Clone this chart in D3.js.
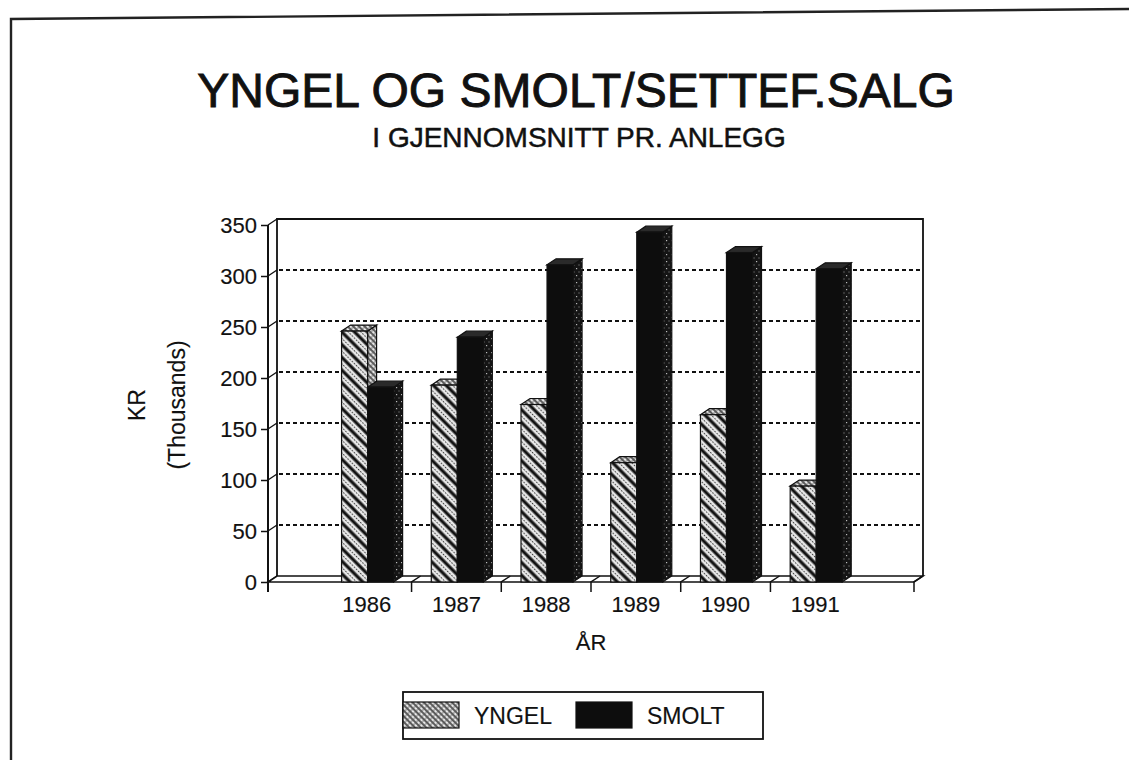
<!DOCTYPE html>
<html>
<head>
<meta charset="utf-8">
<script src="https://cdn.jsdelivr.net/npm/d3@7"></script>
<style>
  body { margin: 0; background: #fff; }
  svg { display: block; }
  text { font-family: "Liberation Sans", Arial, sans-serif; fill: #111; stroke: #111; stroke-width: 0.15; }
</style>
</head>
<body>
<svg id="chart" width="1129" height="760"></svg>
<script>
// data (KR, thousands)
var years = ["1986", "1987", "1988", "1989", "1990", "1991"];
var yngel = [246, 193, 174, 117, 164, 94];
var smolt = [191, 240, 311, 343, 323, 307];
var yTicks = [0, 50, 100, 150, 200, 250, 300, 350];
var seriesNames = ["YNGEL", "SMOLT"];

var svg = d3.select("#chart");
var defs = svg.append("defs");

// depth of the 3d effect
var dx = 9, dy = -6;

var x = d3.scaleBand().domain(years).range([268, 914]).paddingInner(0).paddingOuter(0.6);
var y = d3.scaleLinear().domain([0, 350]).range([582, 225]);
var inner = d3.scaleBand().domain(seriesNames).range([x.bandwidth() * 0.22, x.bandwidth() * 0.80]);

// hatch patterns, scanned look
var p1 = defs.append("pattern").attr("id", "hatch").attr("patternUnits", "userSpaceOnUse")
  .attr("width", 9).attr("height", 9).attr("patternTransform", "rotate(45)");
p1.append("rect").attr("width", 9).attr("height", 9).attr("fill", "#e6e6e6");
p1.append("line").attr("x1", 0).attr("x2", 9).attr("y1", 2).attr("y2", 2).attr("stroke", "#111").attr("stroke-width", 3.2);
p1.append("line").attr("x1", 0).attr("x2", 9).attr("y1", 6.5).attr("y2", 6.5).attr("stroke", "#333").attr("stroke-width", 1.2).attr("stroke-dasharray", "1.5,1.5");

var p2 = defs.append("pattern").attr("id", "hatch2").attr("patternUnits", "userSpaceOnUse")
  .attr("width", 4).attr("height", 4).attr("patternTransform", "rotate(45)");
p2.append("rect").attr("width", 4).attr("height", 4).attr("fill", "#e8e8e8");
p2.append("line").attr("x1", 0).attr("x2", 4).attr("y1", 1).attr("y2", 1).attr("stroke", "#222").attr("stroke-width", 1.4);
p2.append("line").attr("x1", 1).attr("x2", 1).attr("y1", 0).attr("y2", 4).attr("stroke", "#555").attr("stroke-width", 0.8);

var p3 = defs.append("pattern").attr("id", "speck").attr("patternUnits", "userSpaceOnUse")
  .attr("width", 5).attr("height", 7);
p3.append("rect").attr("width", 5).attr("height", 7).attr("fill", "#151515");
p3.append("rect").attr("x", 1).attr("y", 2).attr("width", 1.2).attr("height", 1.2).attr("fill", "#bbb");
p3.append("rect").attr("x", 3.5).attr("y", 5.5).attr("width", 1).attr("height", 1).attr("fill", "#999");

// outer frame (left and top edges only, as in the scan)
svg.append("path").attr("d", "M11,760 L11,19 L1129,9")
  .attr("fill", "none").attr("stroke", "#222").attr("stroke-width", 2.4);

// titles
svg.append("text").attr("x", 576).attr("y", 107).attr("text-anchor", "middle")
  .attr("font-size", 48).style("stroke-width", 0.9).text("YNGEL OG SMOLT/SETTEF.SALG");
svg.append("text").attr("x", 579).attr("y", 147).attr("text-anchor", "middle")
  .attr("font-size", 28).style("stroke-width", 0.5).text("I GJENNOMSNITT PR. ANLEGG");

var x0 = x.range()[0], x1 = x.range()[1];
var line = function(pts) { return d3.line()(pts); };

// back wall
var g = svg.append("g");
g.append("path")
  .attr("d", line([[x0 + dx, y(0) + dy], [x0 + dx, y(350) + dy], [x1 + dx, y(350) + dy], [x1 + dx, y(0) + dy]]))
  .attr("fill", "none").attr("stroke", "#111").attr("stroke-width", 1.8);

// dotted gridlines on the wall + connectors from the front axis
yTicks.slice(1, -1).forEach(function(t) {
  g.append("line").attr("x1", x0 + dx + 2).attr("x2", x1 + dx - 2)
    .attr("y1", y(t) + dy).attr("y2", y(t) + dy)
    .attr("stroke", "#111").attr("stroke-width", 1.8).attr("stroke-dasharray", "4,3");
});
yTicks.forEach(function(t) {
  g.append("line").attr("x1", x0).attr("y1", y(t)).attr("x2", x0 + dx).attr("y2", y(t) + dy)
    .attr("stroke", "#111").attr("stroke-width", 1.4);
});

// floor
g.append("path")
  .attr("d", line([[x0, y(0)], [x1, y(0)], [x1 + dx, y(0) + dy], [x0 + dx, y(0) + dy]]) + "Z")
  .attr("fill", "#fff").attr("stroke", "#111").attr("stroke-width", 1.6);

// category boundary ticks (across the floor and below)
var bounds = [x0].concat(years.slice(1).map(function(d) { return x(d); })).concat([x1]);
bounds.forEach(function(b, i) {
  var pts = (i === 0) ? [[b, y(0)], [b, y(0) + 10]] : [[b + dx, y(0) + dy], [b, y(0)], [b, y(0) + 10]];
  g.append("path").attr("d", line(pts)).attr("fill", "none").attr("stroke", "#111").attr("stroke-width", 1.5);
});

// front y axis
var yAxis = d3.axisLeft(y).tickValues(yTicks).tickSize(7).tickPadding(4);
var ya = svg.append("g").attr("transform", "translate(" + x0 + ",0)").call(yAxis);
ya.select(".domain").remove();
ya.selectAll(".tick line").attr("stroke", "#111").attr("stroke-width", 1.5);
ya.selectAll(".tick text").attr("font-size", 22).attr("font-family", "Liberation Sans, Arial, sans-serif").attr("fill", "#111").attr("dy", "0.36em");
svg.append("line").attr("x1", x0).attr("x2", x0).attr("y1", y(350)).attr("y2", y(0) + 10)
  .attr("stroke", "#111").attr("stroke-width", 2);

// bars
var fills = {
  YNGEL: { front: "url(#hatch)", top: "url(#hatch2)", side: "url(#hatch2)" },
  SMOLT: { front: "#0d0d0d", top: "#2a2a2a", side: "url(#speck)" }
};
var barData = [];
years.forEach(function(yr, i) {
  barData.push({ year: yr, series: "YNGEL", value: yngel[i] });
  barData.push({ year: yr, series: "SMOLT", value: smolt[i] });
});
var bars = svg.append("g").selectAll("g").data(barData).enter().append("g");
bars.each(function(d) {
  var el = d3.select(this);
  var bx0 = x(d.year) + inner(d.series), bx1 = bx0 + inner.bandwidth();
  var yt = y(d.value), yb = y(0);
  el.append("path").attr("d", line([[bx1, yt], [bx1 + dx, yt + dy], [bx1 + dx, yb + dy], [bx1, yb]]) + "Z")
    .attr("fill", fills[d.series].side).attr("stroke", "#111").attr("stroke-width", 1.2);
  el.append("path").attr("d", line([[bx0, yt], [bx0 + dx, yt + dy], [bx1 + dx, yt + dy], [bx1, yt]]) + "Z")
    .attr("fill", fills[d.series].top).attr("stroke", "#111").attr("stroke-width", 1.2);
  el.append("rect").attr("x", bx0).attr("y", yt).attr("width", bx1 - bx0).attr("height", yb - yt)
    .attr("fill", fills[d.series].front).attr("stroke", "#111").attr("stroke-width", 1.2);
});

// x labels
svg.append("g").selectAll("text").data(years).enter().append("text")
  .attr("x", function(d) { return x(d) + x.bandwidth() / 2; })
  .attr("y", 612).attr("text-anchor", "middle").attr("font-size", 22)
  .text(function(d) { return d; });
svg.append("text").attr("x", (x0 + x1) / 2).attr("y", 650).attr("text-anchor", "middle")
  .attr("font-size", 22).text("ÅR");

// y title
svg.append("text").attr("transform", "translate(145,405) rotate(-90)").attr("text-anchor", "middle")
  .attr("font-size", 23).text("KR");
svg.append("text").attr("transform", "translate(185,405) rotate(-90)").attr("text-anchor", "middle")
  .attr("font-size", 23).text("(Thousands)");

// legend
var lg = svg.append("g");
lg.append("rect").attr("x", 403).attr("y", 692).attr("width", 360).attr("height", 47)
  .attr("fill", "#fff").attr("stroke", "#111").attr("stroke-width", 1.8);
var legendX = [403, 576];
seriesNames.forEach(function(s, i) {
  lg.append("rect").attr("x", legendX[i]).attr("y", 702).attr("width", 56).attr("height", 26)
    .attr("fill", i === 0 ? "url(#hatch2)" : "#0d0d0d").attr("stroke", "#111").attr("stroke-width", 1.2);
  lg.append("text").attr("x", legendX[i] + 71).attr("y", 724).attr("font-size", 23).text(s);
});
</script>
</body>
</html>
